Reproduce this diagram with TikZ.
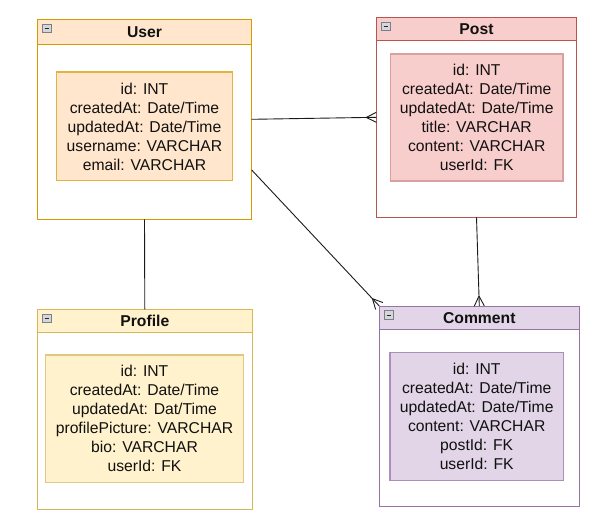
\documentclass[tikz,border=0pt]{standalone}
\usepackage{fontspec}
\setmainfont{Liberation Sans}
\usetikzlibrary{calc,decorations.markings}
\definecolor{userfill}{HTML}{FFE6CC}
\definecolor{userline}{HTML}{D79B00}
\definecolor{postfill}{HTML}{F8CECC}
\definecolor{postline}{HTML}{B85450}
\definecolor{proffill}{HTML}{FFF2CC}
\definecolor{profline}{HTML}{D6B656}
\definecolor{comfill}{HTML}{E1D5E7}
\definecolor{comline}{HTML}{9673A6}
\definecolor{linkcol}{HTML}{1A1A1A}
\definecolor{txtcol}{HTML}{111111}
\definecolor{iconline}{HTML}{7A7F8A}
\definecolor{iconfill}{HTML}{D4D6DA}
\begin{document}
\begin{tikzpicture}[x=1pt,y=-1pt,
  every node/.style={font=\fontsize{15.7}{19}\selectfont, inner sep=0pt, outer sep=0pt, text=txtcol},
  entity/.style={draw, fill=white, anchor=north west, line width=1pt},
  header/.style={draw, anchor=north west, line width=1pt, font=\fontsize{15.7}{19}\selectfont\bfseries},
  attrs/.style={draw, align=center, line width=1.2pt},
  icon/.style={draw=iconline, fill=iconfill, minimum size=8.5pt, anchor=north west, line width=0.8pt,
    path picture={\draw[black!85, line width=1.1pt] ([xshift=2pt]path picture bounding box.west) -- ([xshift=-2pt]path picture bounding box.east);}},
  link/.style={draw=linkcol, line width=0.9pt},
  crow/.style={postaction={decorate}, decoration={markings, mark=at position 0.9999 with {\draw[linkcol, line width=0.9pt] (-10pt,0pt) -- (0pt,5pt) (-10pt,0pt) -- (0pt,-5pt);}}}
]
\useasboundingbox (0,0) rectangle (593,527);

% User
\node[entity, draw=userline, minimum width=214.4pt, minimum height=200pt] (user) at (37.3,19.3) {};
\node[header, draw=userline, fill=userfill, minimum width=214.4pt, minimum height=25.7pt] (userh) at (37.3,19.3) {User};
\node[icon] (useri) at (42.6,24.1) {};
\node[attrs, draw=userline!75, fill=userfill, minimum width=175.3pt, minimum height=108.7pt] (usera) at (144.5,126.4)
  {id: INT\\createdAt: Date/Time\\updatedAt: Date/Time\\username: VARCHAR\\email: VARCHAR};

% Post
\node[entity, draw=postline, minimum width=200.4pt, minimum height=200pt] (post) at (376.3,17.3) {};
\node[header, draw=postline, fill=postfill, minimum width=200.4pt, minimum height=23.4pt] (posth) at (376.3,17.3) {Post};
\node[icon] (posti) at (381.6,22.1) {};
\node[attrs, draw=postline!55, line width=1.8pt, fill=postfill, minimum width=172.5pt, minimum height=127.6pt] (posta) at (476.7,117.5)
  {id: INT\\createdAt: Date/Time\\updatedAt: Date/Time\\title: VARCHAR\\content: VARCHAR\\userId: FK};

% Profile
\node[entity, draw=profline, minimum width=215pt, minimum height=200pt] (profile) at (37.3,309.3) {};
\node[header, draw=profline, fill=proffill, minimum width=215pt, minimum height=23pt] (profileh) at (37.3,309.3) {Profile};
\node[icon] (profilei) at (42.6,314.1) {};
\node[attrs, draw=profline!75, fill=proffill, minimum width=197.6pt, minimum height=127.7pt] (profilea) at (144.5,418.8)
  {id: INT\\createdAt: Date/Time\\updatedAt: Dat/Time\\profilePicture: VARCHAR\\bio: VARCHAR\\userId: FK};

% Comment
\node[entity, draw=comline, minimum width=200pt, minimum height=200pt] (comment) at (379.3,306) {};
\node[header, draw=comline, fill=comfill, minimum width=200pt, minimum height=23.3pt] (commenth) at (379.3,306) {Comment};
\node[icon] (commenti) at (384.6,310.8) {};
\node[attrs, draw=comline!80, fill=comfill, minimum width=173.3pt, minimum height=128pt] (commenta) at (476.7,416.7)
  {id: INT\\createdAt: Date/Time\\updatedAt: Date/Time\\content: VARCHAR\\postId: FK\\userId: FK};

% Links
\coordinate (uc) at ([yshift=49.3pt]user.south east);
\draw[link, crow] (user.east) -- (post.west);
\draw[link] (user.south) -- (profile.north);
\draw[link, crow] (uc) -- (comment.north west);
\draw[link, crow] (post.south) -- (comment.north);
\end{tikzpicture}
\end{document}
